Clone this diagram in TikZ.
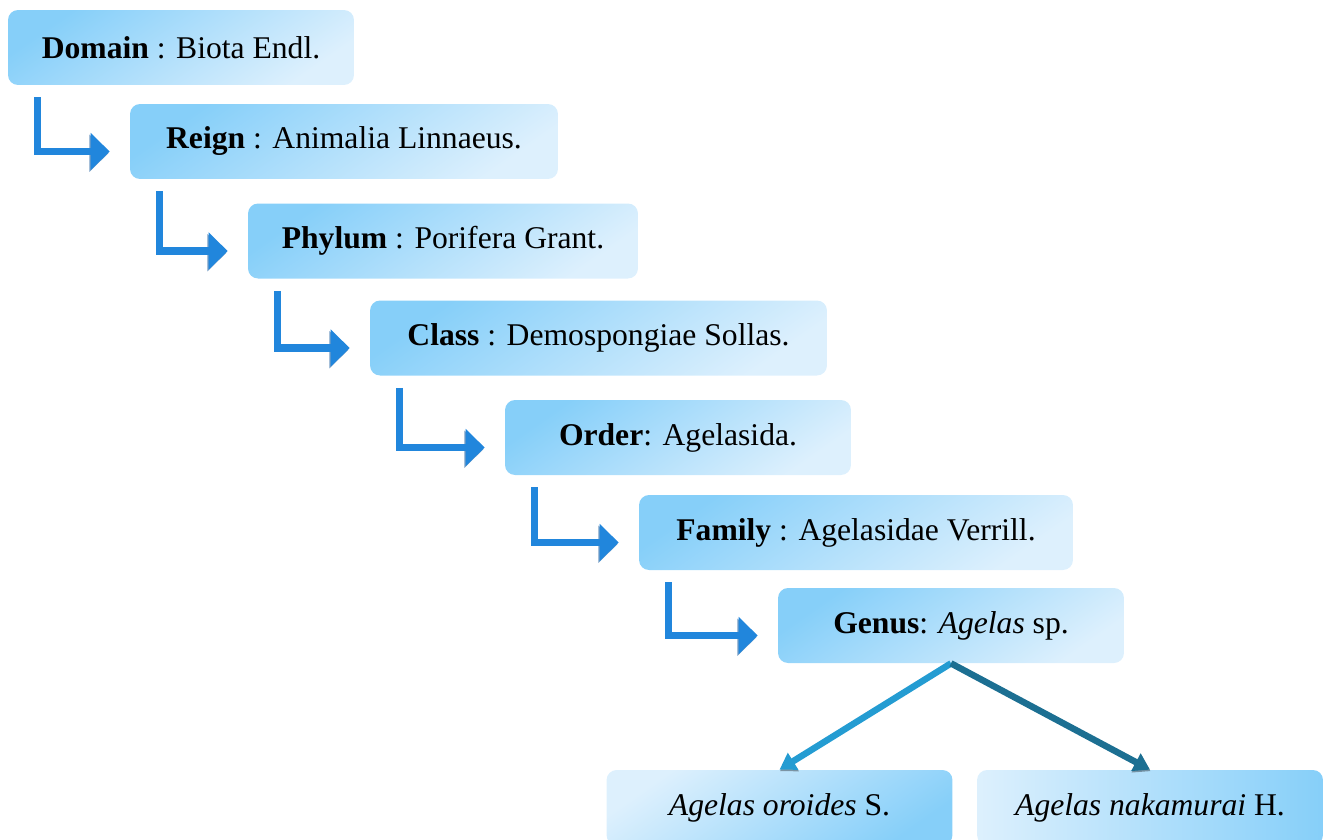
\documentclass[tikz,border=0pt]{standalone}
\usepackage{fontspec}
\setmainfont{Liberation Serif}
\usetikzlibrary{arrows.meta,calc}

\definecolor{boxdeep}{HTML}{86CFF9}
\definecolor{boxpale}{HTML}{DDF0FD}
\definecolor{arrblue}{HTML}{2186DC}
\definecolor{arrdark}{HTML}{1A5C9E}
\definecolor{diagleft}{HTML}{249CD2}
\definecolor{diagright}{HTML}{1C6F92}

\begin{document}
\begin{tikzpicture}[
    x=0.02cm, y=-0.02cm,
    every node/.style={
        font=\fontsize{18}{21.6}\selectfont,
    },
    rank/.style={
        rounded corners=0.2cm, inner sep=0pt,
        minimum height=1.5cm,
        shading=axis, top color=boxdeep, bottom color=boxpale, shading angle=35,
    },
    leaf/.style={
        rounded corners=0.2cm, inner sep=0pt,
        minimum width=6.92cm, minimum height=1.5cm,
    },
    larrow/.style={
        draw=arrblue, line width=0.15cm,
        -{Triangle[width=0.72cm,length=0.38cm]},
        preaction={draw=arrdark, opacity=0.6,
            transform canvas={shift={(-0.025cm,-0.035cm)}}},
    },
    darrow/.style={
        line width=0.13cm,
        -{Triangle[width=0.38cm,length=0.32cm]},
        preaction={draw=black, opacity=0.35,
            transform canvas={shift={(0.01cm,-0.03cm)}}},
    },
]
    \useasboundingbox (0,0) rectangle (1327,839);

    % ranks
    \node[rank, minimum width=6.92cm] (dom) at (181,47.5) {\textbf{Domain} : Biota Endl.};
    \node[rank, minimum width=8.56cm] (rei) at (344,141.5) {\textbf{Reign} : Animalia Linnaeus.};
    \node[rank, minimum width=7.80cm] (phy) at (443,241) {\textbf{Phylum} : Porifera Grant.};
    \node[rank, minimum width=9.14cm] (cla) at (598.5,338) {\textbf{Class} : Demospongiae Sollas.};
    \node[rank, minimum width=6.92cm] (ord) at (678,437.5) {\textbf{Order}: Agelasida.};
    \node[rank, minimum width=8.68cm] (fam) at (856,532.5) {\textbf{Family} : Agelasidae Verrill.};
    \node[rank, minimum width=6.92cm] (gen) at (951,625.5) {\textbf{Genus}: \textit{Agelas} sp.};

    % species
    \node[leaf, shading=axis, top color=boxpale, bottom color=boxdeep, shading angle=35]
        (oro) at (779.5,807.5) {\textit{Agelas oroides} S.};
    \node[leaf, left color=boxpale, right color=boxdeep]
        (nak) at (1150,807.5) {\textit{Agelas nakamurai} H.};

    % step arrows
    \foreach \a/\b in {dom/rei, rei/phy, phy/cla, cla/ord, ord/fam, fam/gen}
        \draw[larrow] ($(\a.south west)+(30,12)$) |- ($(\b.west)+(-20,10)$);

    \draw[darrow, draw=diagleft] (gen.south) -- (oro.north);
    \draw[darrow, draw=diagright] (gen.south) -- (nak.north);
\end{tikzpicture}
\end{document}
